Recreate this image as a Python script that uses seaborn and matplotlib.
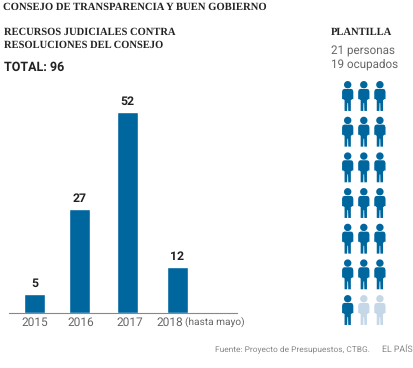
import matplotlib
matplotlib.use("Agg")
import matplotlib.pyplot as plt
from matplotlib.path import Path
from matplotlib.transforms import ScaledTranslation
import numpy as np
import pandas as pd
import seaborn as sns

# ---- data ----
years = ["2015", "2016", "2017", "2018"]
appeals = [5, 27, 52, 12]
staff_total = 21
staff_occupied = 19
staff_columns = 3

title = "CONSEJO DE TRANSPARENCIA Y BUEN GOBIERNO"
subtitle = ["RECURSOS JUDICIALES CONTRA", "RESOLUCIONES DEL CONSEJO"]
total_label = "TOTAL: 96"
staff_title = "PLANTILLA"
staff_text = ["21 personas", "19 ocupados"]
source = "Fuente: Proyecto de Presupuestos, CTBG."
credit = "EL PAÍS"

# ---- layout ----
W, H = 414, 368
BLUE = "#00669e"
PALE = "#c6d8e8"
SANS = "Roboto"
SERIF = "Liberation Serif"

sns.set_theme(style="white")
plt.rcParams["font.family"] = [SANS, "DejaVu Sans"]
plt.rcParams["text.hinting"] = "no_hinting"

fig = plt.figure(figsize=(W / 100, H / 100), dpi=100, facecolor="white")


def px_axes(x0, y0, x1, y1):
    return fig.add_axes([x0 / W, 1 - y1 / H, (x1 - x0) / W, (y1 - y0) / H])


def label(x, y, s, **kw):
    kw.setdefault("va", "center")
    fig.text(x / W, 1 - y / H, s, **kw)


# ---- bars ----
pitch = 47.67
ax = px_axes(9, 81, 237, 313)
df = pd.DataFrame({"year": years, "appeals": appeals})
sns.barplot(data=df, x="year", y="appeals", color=BLUE, saturation=1,
            width=21 / pitch, ax=ax)
ax.set_xlim((9 - 34.5) / pitch, (237 - 34.5) / pitch)
ax.set_ylim(0, 232 / 3.87)
for bar, nudge in zip(ax.patches, [0, -2.7, -2.3, 0]):
    bar.set_x(bar.get_x() + nudge / pitch)
    ax.text(bar.get_x() + bar.get_width() / 2, bar.get_height(), f"{int(bar.get_height())}",
            ha="center", va="bottom", fontsize=8.8, fontweight="bold", color="#222222",
            transform=ax.transData + ScaledTranslation(0, 3 / 72, fig.dpi_scale_trans))
ax.set_xlabel("")
ax.set_ylabel("")
ax.set_yticks([])
ax.tick_params(axis="x", length=0, pad=3, labelsize=8.6, labelcolor="#666666")
for side in ("top", "left", "right"):
    ax.spines[side].set_visible(False)
ax.spines["bottom"].set_color("#888888")
ax.spines["bottom"].set_linewidth(0.8)
for tl, shift in zip(ax.get_xticklabels(), [0.5, -1, -0.5, -8]):
    tl.set_transform(tl.get_transform() + ScaledTranslation(shift / 100, 0, fig.dpi_scale_trans))
label(185, 322, "(hasta mayo)", fontsize=7.3, color="#666666", ha="left")

# ---- pictogram ----
theta = np.linspace(0, 2 * np.pi, 25)
head = np.c_[0.33 * np.cos(theta), 1.33 + 0.33 * np.sin(theta)]
body = np.array([
    [-0.30, 0.96], [0.30, 0.96], [0.44, 0.90], [0.50, 0.72], [0.50, 0.05],
    [0.38, 0.05], [0.34, -0.02], [0.28, -0.02], [0.28, -1.00], [0.05, -1.00],
    [0.03, -0.30], [-0.03, -0.30], [-0.05, -1.00], [-0.28, -1.00], [-0.28, -0.02],
    [-0.34, -0.02], [-0.38, 0.05], [-0.50, 0.05], [-0.50, 0.72], [-0.44, 0.90],
    [-0.30, 0.96],
])
person = Path.make_compound_path(Path(head, closed=False), Path(body, closed=False))

seats = np.arange(staff_total)
people = pd.DataFrame({
    "col": seats % staff_columns,
    "row": seats // staff_columns,
    "state": np.where(seats < staff_occupied, "occupied", "vacant"),
})
pic = px_axes(340, 76, 388, 330)
sns.scatterplot(data=people, x="col", y="row", hue="state", palette={"occupied": BLUE, "vacant": PALE},
                marker=person, s=723, linewidth=0, legend=False, ax=pic, clip_on=False)
pic.set_xlim((340 - 347.7) / 16.1, (388 - 347.7) / 16.1)
pic.set_ylim((330 - 99.7) / 35.67, (76 - 99.7) / 35.67)
pic.axis("off")

# ---- text ----
label(3.5, 7.5, title, family=SERIF, fontweight="bold", fontsize=7.7, color="#222222")
label(4, 32, subtitle[0], family=SERIF, fontweight="bold", fontsize=7.6, color="#222222")
label(4, 45.5, subtitle[1], family=SERIF, fontweight="bold", fontsize=7.6, color="#222222")
label(4, 67, total_label, fontweight="bold", fontsize=9, color="#222222")
label(331, 32.5, staff_title, family=SERIF, fontweight="bold", fontsize=7.6, color="#222222")
label(331, 51, staff_text[0], fontsize=8.4, color="#666666")
label(331, 64, staff_text[1], fontsize=8.4, color="#666666")
label(215, 349, source, fontsize=6.0, color="#888888")
label(382, 349, credit, fontsize=6.3, color="#888888")

fig.savefig("out.png", dpi=100, facecolor="white")
